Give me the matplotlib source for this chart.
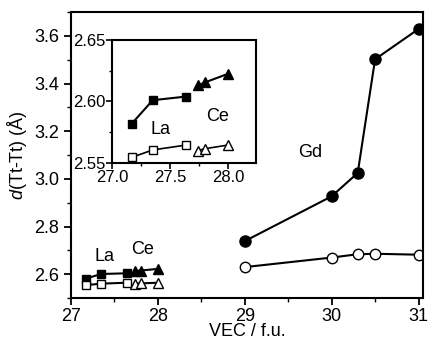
import numpy as np
import matplotlib
matplotlib.use("Agg")
import matplotlib.pyplot as plt
from matplotlib.ticker import MultipleLocator, FormatStrFormatter

plt.rcParams['font.family'] = ['Liberation Sans', 'DejaVu Sans']
plt.rcParams['mathtext.fontset'] = 'custom'
plt.rcParams['mathtext.it'] = 'Liberation Sans:italic'

# La (squares) and Ce (triangles)
la_vec = [27.17, 27.35, 27.64]
la_filled = [2.582, 2.601, 2.604]
la_open = [2.5545, 2.5605, 2.5645]
ce_vec = [27.74, 27.80, 28.0]
ce_filled = [2.613, 2.6155, 2.6225]
ce_open = [2.560, 2.5615, 2.5645]
# Gd (circles)
gd_vec = [29.0, 30.0, 30.3, 30.5, 31.0]
gd_filled = [2.739, 2.927, 3.025, 3.502, 3.629]
gd_open = [2.630, 2.670, 2.684, 2.686, 2.682]

fig = plt.figure(figsize=(4.28, 3.45), dpi=100)
ax = fig.add_axes([0.166, 0.136, 0.822, 0.829])

lw = 1.5
ax.plot(la_vec, la_filled, 'k-s', ms=5.5, lw=lw)
ax.plot(la_vec, la_open, 'k-s', ms=5.5, lw=lw, mfc='white')
ax.plot(ce_vec, ce_filled, 'k-^', ms=6.5, lw=lw)
ax.plot(ce_vec, ce_open, 'k-^', ms=6.5, lw=lw, mfc='white')
ax.plot(gd_vec, gd_filled, 'k-o', ms=8, lw=lw)
ax.plot(gd_vec, gd_open, 'k-o', ms=7.5, lw=lw, mfc='white')

ax.set_xlim(27, 31.05)
ax.set_ylim(2.5, 3.7)
ax.xaxis.set_major_locator(MultipleLocator(1))
ax.xaxis.set_minor_locator(MultipleLocator(0.5))
ax.yaxis.set_major_locator(MultipleLocator(0.2))
ax.yaxis.set_minor_locator(MultipleLocator(0.1))
ax.tick_params(which='major', direction='out', length=5, width=1.3, labelsize=13)
ax.tick_params(axis='x', which='major', pad=2)
ax.tick_params(which='minor', direction='out', length=3, width=1.0)
for s in ax.spines.values():
    s.set_linewidth(1.5)
ax.set_xlabel('VEC / f.u.', fontsize=13, labelpad=-1)
ax.set_ylabel('$d$(Tt-Tt) (Å)', fontsize=13, labelpad=4)

ax.text(27.38, 2.675, 'La', fontsize=13, ha='center', va='center')
ax.text(27.82, 2.705, 'Ce', fontsize=13, ha='center', va='center')
ax.text(29.75, 3.11, 'Gd', fontsize=13, ha='center', va='center')

# inset
ins = fig.add_axes([0.262, 0.528, 0.336, 0.356])
ins.plot(la_vec, la_filled, 'k-s', ms=6, lw=lw)
ins.plot(la_vec, la_open, 'k-s', ms=6, lw=1.2, mfc='white')
ins.plot(ce_vec, ce_filled, 'k-^', ms=7, lw=lw)
ins.plot(ce_vec, ce_open, 'k-^', ms=7, lw=1.2, mfc='white')
ins.set_xlim(27.0, 28.24)
ins.set_ylim(2.55, 2.65)
ins.xaxis.set_major_locator(MultipleLocator(0.5))
ins.xaxis.set_minor_locator(MultipleLocator(0.25))
ins.yaxis.set_major_locator(MultipleLocator(0.05))
ins.yaxis.set_minor_locator(MultipleLocator(0.025))
ins.tick_params(which='major', direction='out', length=4, width=1.2, labelsize=12, pad=1)
ins.tick_params(which='minor', direction='out', length=2.5, width=1.0)
for s in ins.spines.values():
    s.set_linewidth(1.5)
ins.xaxis.set_major_formatter(FormatStrFormatter('%.1f'))
ins.yaxis.set_major_formatter(FormatStrFormatter('%.2f'))
ins.text(27.42, 2.5775, 'La', fontsize=13, ha='center', va='center')
ins.text(27.91, 2.5875, 'Ce', fontsize=13, ha='center', va='center')

fig.savefig('out.png', dpi=100)
